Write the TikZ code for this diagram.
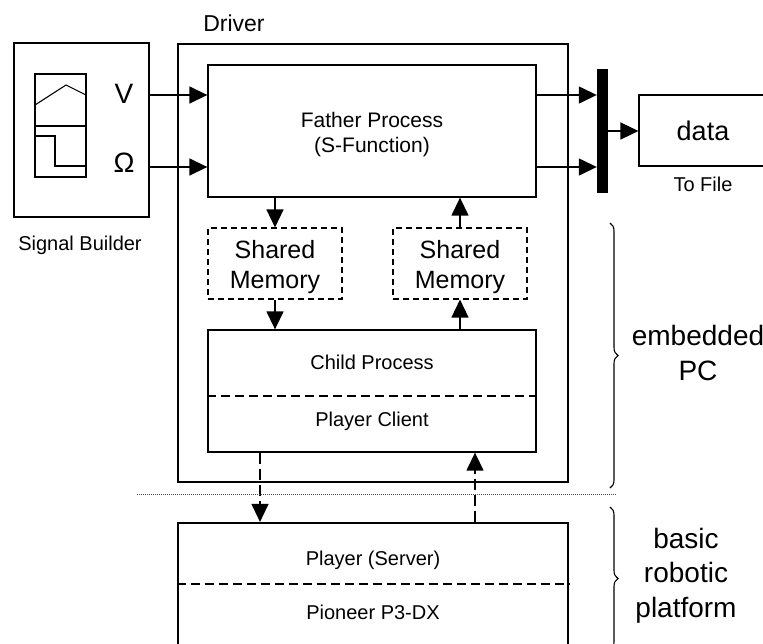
\documentclass[tikz,border=0pt]{standalone}
\usepackage{fontspec}
\setmainfont{Liberation Sans}
\usetikzlibrary{arrows.meta,decorations.pathreplacing}

\tikzset{
  box/.style={draw, line width=1.3pt, inner sep=0pt},
  thickbox/.style={draw, line width=2.2pt, inner sep=0pt},
  shmbox/.style={draw, line width=1.1pt, dash pattern=on 6pt off 4pt, inner sep=0pt},
  sep/.style={line width=1.1pt, dash pattern=on 9pt off 5pt},
  arr/.style={line width=1.4pt, -{Triangle[length=18pt,width=17pt]}},
  darr/.style={arr, dash pattern=on 11pt off 5pt},
  lbl/.style={inner sep=0pt, align=center},
  brc/.style={decorate, decoration={brace, amplitude=8pt}, line width=1.1pt},
}

\newcommand{\fs}[1]{\fontsize{#1}{#1}\selectfont}

\begin{document}
\begin{tikzpicture}[x=1pt, y=-1pt]
\useasboundingbox (0,0) rectangle (763,643);
\clip (0,0) rectangle (763,643);

% Signal Builder block with its waveform icon
\node[box, line width=1.1pt, minimum width=135pt, minimum height=174pt] (sb) at (81.5,130) {};
\node[lbl, font=\fs{20}] (sblbl) at (80,245) {Signal Builder};
\draw[line width=1.1pt] (35,74) rectangle (86,177);
\draw[line width=1.1pt] (35,126) -- (86,126);
\draw[line width=1.1pt] (35,105) -- (66,85) -- (86,95);
\draw[line width=1.1pt] (35,136) -- (55,136) -- (55,166) -- (86,166);
\node[lbl, font=\fs{28}, anchor=base] (V) at (124,103) {V};
\node[lbl, font=\fs{28}, anchor=base] (W) at (124,172) {Ω};
\coordinate (vrow) at (0,95);
\coordinate (wrow) at (0,167);

% Driver block
\node[thickbox, minimum width=390pt, minimum height=438pt] (drv) at (373,263) {};
\node[lbl, font=\fs{23}, anchor=base] (drvlbl) at (234,31) {Driver};

% Father process
\node[box, minimum width=328pt, minimum height=132pt] (fp) at (372,131) {};
\node[lbl, font=\fs{21}, anchor=base] (fpt1) at (372,127) {Father Process};
\node[lbl, font=\fs{21}, anchor=base] (fpt2) at (372,152) {(S-Function)};

% Shared memories
\node[shmbox, minimum width=134pt, minimum height=71pt] (sm1) at (275,263.5) {};
\node[lbl, font=\fs{25}, anchor=base] (sm1a) at (275,258) {Shared};
\node[lbl, font=\fs{25}, anchor=base] (sm1b) at (275,288) {Memory};
\node[shmbox, minimum width=134pt, minimum height=71pt] (sm2) at (460,263.5) {};
\node[lbl, font=\fs{25}, anchor=base] (sm2a) at (460,258) {Shared};
\node[lbl, font=\fs{25}, anchor=base] (sm2b) at (460,288) {Memory};

% Child process / player client
\node[box, minimum width=328pt, minimum height=122pt] (cp) at (372,391) {};
\draw[sep] (cp.west |- 0,396) -- (cp.east |- 0,396);
\node[lbl, font=\fs{20}] (cpt) at (372,362) {Child Process};
\node[lbl, font=\fs{20}] (pct) at (372,421) {Player Client};

% Player server / robot
\node[thickbox, minimum width=390pt, minimum height=137pt] (pl) at (373,591.5) {};
\draw[sep] (pl.west |- 0,584) -- (pl.east |- 0,584);
\node[lbl, font=\fs{20}] (plt) at (373,560) {Player (Server)};
\node[lbl, font=\fs{20}] (p3t) at (373,612) {Pioneer P3-DX};

% Mux bar and To File block
\node[fill=black, inner sep=0pt, minimum width=11pt, minimum height=124pt] (mux) at (602.5,131) {};
\node[box, line width=1.1pt, minimum width=151pt, minimum height=71pt] (data) at (714.5,130.5) {};
\node[lbl, font=\fs{27}] (datat) at (703,131) {data};
\node[lbl, font=\fs{20}] (tof) at (703,184) {To File};

% Signal connections
\draw[arr] (vrow -| sb.east) -- (vrow -| fp.west);
\draw[arr] (wrow -| sb.east) -- (wrow -| fp.west);
\draw[arr] (vrow -| fp.east) -- (vrow -| mux.west);
\draw[arr] (wrow -| fp.east) -- (wrow -| mux.west);
\draw[arr] (mux.east) -- (mux.east -| data.west);

\draw[arr] (sm1.north |- fp.south) -- (sm1.north);
\draw[arr] (sm1.south) -- (sm1.south |- cp.north);
\draw[arr] (sm2.south |- cp.north) -- (sm2.south);
\draw[arr] (sm2.north) -- (sm2.north |- fp.south);

\coordinate (cdn) at (260,0);
\coordinate (cup) at (475,0);
\draw[darr] (cdn |- cp.south) -- (cdn |- pl.north);
\draw[darr] (cup |- pl.north) -- (cup |- cp.south);

% Boundary between PC and robot
\coordinate (bl) at (137,494);
\coordinate (br) at (617,494);
\draw[line width=0.8pt, dash pattern=on 1pt off 1pt, black!70] (bl) -- (br);

% Braces with their labels
\draw[brc] (610,223) -- (610,488);
\node[lbl, font=\fs{28}, anchor=base] (pc1) at (698,345) {embedded};
\node[lbl, font=\fs{28}, anchor=base] (pc2) at (698,380) {PC};
\draw[brc] (610,507) -- (610,650);
\node[lbl, font=\fs{28}, anchor=base] (rob1) at (686,548) {basic};
\node[lbl, font=\fs{28}, anchor=base] (rob2) at (686,582) {robotic};
\node[lbl, font=\fs{28}, anchor=base] (rob3) at (686,617) {platform};
\end{tikzpicture}
\end{document}
